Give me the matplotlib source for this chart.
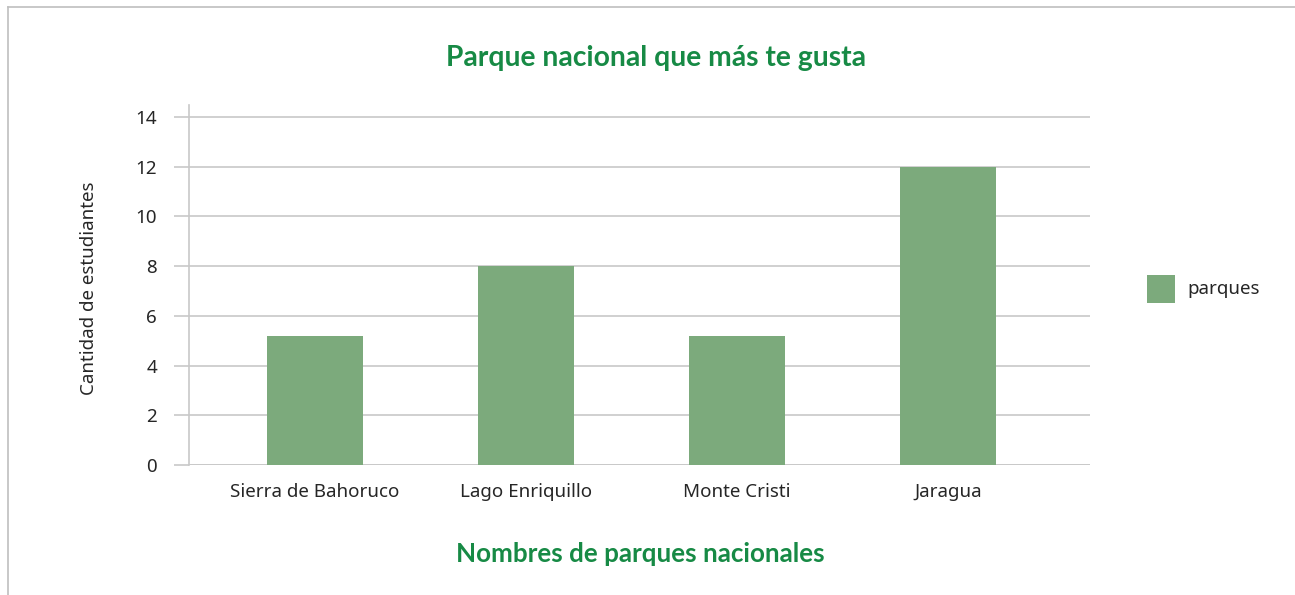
import matplotlib.pyplot as plt
from matplotlib.patches import Rectangle

plt.rcParams['font.family'] = ['Noto Sans', 'DejaVu Sans']

parques = ['Sierra de Bahoruco', 'Lago Enriquillo', 'Monte Cristi', 'Jaragua']
estudiantes = [5.2, 8, 5.2, 12]
yticks = [0, 2, 4, 6, 8, 10, 12, 14]

verde = '#178a45'
barra = '#7caa7c'
gris = '#c8c8c8'
texto = '#262626'

fig = plt.figure(figsize=(12.95, 5.95), dpi=100)
W, H = 1295, 595

# marco exterior (solo borde superior e izquierdo visibles)
fig.add_artist(plt.Line2D([8 / W, 1], [1 - 7 / H, 1 - 7 / H], transform=fig.transFigure,
                          color='#bfbfbf', lw=1.2))
fig.add_artist(plt.Line2D([8 / W, 8 / W], [0, 1 - 7 / H], transform=fig.transFigure,
                          color='#bfbfbf', lw=1.2))

ax = fig.add_axes([189 / W, 1 - 465 / H, (1090 - 189) / W, (465 - 105) / H])
x = range(len(parques))
ax.bar(x, estudiantes, width=0.455, color=barra, zorder=3, label='parques')

ax.set_xlim(-0.597, 3.673)
ax.set_ylim(0, 14.48)
ax.set_yticks(yticks)
ax.set_xticks(list(x))
ax.set_xticklabels(parques)
ax.yaxis.grid(True, color=gris, lw=1.2, zorder=0)
for s in ['top', 'right', 'bottom']:
    ax.spines[s].set_visible(False)
ax.spines['left'].set_color(gris)
ax.spines['left'].set_linewidth(1.2)
ax.axhline(0, color=gris, lw=1.2, zorder=2)
ax.tick_params(axis='y', length=11, color=gris, width=1.2, labelsize=13.5, labelcolor=texto, pad=12)
ax.tick_params(axis='x', length=0, labelsize=13.5, labelcolor=texto, pad=13)

titulo = dict(family='Lato', color=verde, fontweight='bold', ha='center', va='center')
fig.text(656 / W, 1 - 58 / H, 'Parque nacional que más te gusta', fontsize=20.3, **titulo)
fig.text(640 / W, 1 - 554 / H, 'Nombres de parques nacionales', fontsize=18.7, **titulo)
fig.text(89 / W, 1 - 288 / H, 'Cantidad de estudiantes', color=texto,
         fontsize=13.5, rotation=90, ha='center', va='center')

# leyenda
fig.add_artist(Rectangle((1147 / W, 1 - 303 / H), 28 / W, 28 / H, transform=fig.transFigure,
                         facecolor=barra, edgecolor='none'))
fig.text(1187 / W, 1 - 289 / H, 'parques', color=texto, fontsize=13.5, ha='left', va='center')

fig.savefig('out.png', dpi=100)
